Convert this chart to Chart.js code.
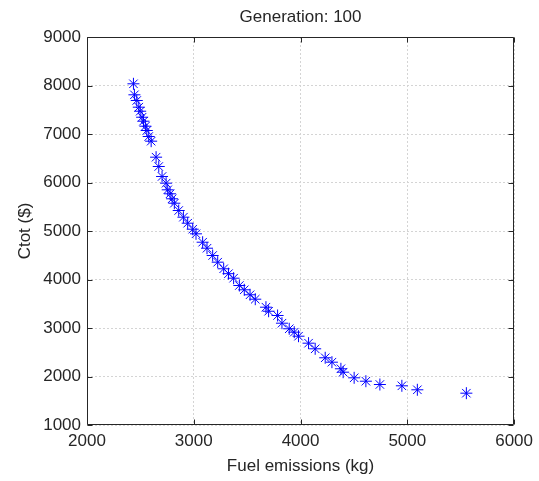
<!DOCTYPE html>
<html><head><meta charset="utf-8">
<style>html,body{margin:0;padding:0;background:#fff}#wrap{width:539px;height:481px}</style>
<script src="https://cdn.jsdelivr.net/npm/chart.js@4.4.1/dist/chart.umd.min.js"></script>
</head><body><div id="wrap"><canvas id="c" width="539" height="481"></canvas></div>
<script>
const chartTitle = 'Generation: 100';
const xAxisTitle = 'Fuel emissions (kg)';
const yAxisTitle = 'Ctot ($)';
const fuelEmissions = [2435,2444,2466,2485,2498,2516,2529,2547,2560,2578,2601,2647,2672,2703,2741,2756,2778,2797,2818,2859,2903,2943,2990,3021,3083,3124,3177,3224,3280,3325,3373,3427,3473,3527,3576,3676,3701,3785,3826,3894,3941,3981,4075,4137,4231,4294,4378,4399,4502,4612,4743,4949,5094,5553];
const ctot = [8035,7808,7691,7553,7470,7346,7264,7161,7072,6948,6852,6522,6330,6124,5986,5849,5767,5664,5573,5423,5285,5161,5037,4942,4769,4645,4495,4357,4221,4120,4027,3876,3788,3685,3594,3429,3346,3258,3099,2984,2914,2831,2687,2571,2386,2295,2159,2089,1973,1903,1835,1808,1726,1656];
const xTicks = [2000,3000,4000,5000,6000];
const yTicks = [1000,2000,3000,4000,5000,6000,7000,8000,9000];

const FONT = '"Liberation Sans", Arial, Helvetica, sans-serif';
const TXT = '#262626';
const FS = 17;

const framePlugin = {
  id: 'frame',
  afterDraw(chart) {
    const {ctx, chartArea: a, scales} = chart;
    ctx.save();
    ctx.strokeStyle = TXT;
    ctx.lineWidth = 1;
    ctx.beginPath();
    const L = Math.round(a.left)+0.5, R = Math.round(a.right)-0.5, T = Math.round(a.top)+0.5, B = Math.round(a.bottom)-0.5;
    ctx.rect(L, T, R-L, B-T);
    const tl = 5;
    xTicks.forEach(v => {
      const x = Math.round(scales.x.getPixelForValue(v)) + 0.5;
      ctx.moveTo(x, B); ctx.lineTo(x, B - tl);
      ctx.moveTo(x, T); ctx.lineTo(x, T + tl);
    });
    yTicks.forEach(v => {
      const y = Math.round(scales.y.getPixelForValue(v)) + 0.5;
      ctx.moveTo(L, y); ctx.lineTo(L + tl, y);
      ctx.moveTo(R, y); ctx.lineTo(R - tl, y);
    });
    ctx.stroke();
    ctx.fillStyle = TXT;
    ctx.font = FS + 'px ' + FONT;
    ctx.textAlign = 'center';
    ctx.textBaseline = 'middle';
    ctx.fillText(chartTitle, (a.left + a.right) / 2, 17);
    ctx.restore();
  }
};

new Chart(document.getElementById('c'), {
  type: 'scatter',
  data: {
    datasets: [{
      data: fuelEmissions.map((x, i) => ({x, y: ctot[i]})),
      pointStyle: 'star',
      pointRadius: 6,
      pointHoverRadius: 6,
      borderColor: '#0000ff',
      backgroundColor: '#0000ff',
      borderWidth: 1,
      showLine: false
    }]
  },
  options: {
    responsive: false,
    animation: false,
    devicePixelRatio: 1,
    layout: {padding: {top: 37, right: 24, bottom: 0, left: 0}},
    plugins: {legend: {display: false}, tooltip: {enabled: false}, title: {display: false}},
    scales: {
      x: {
        type: 'linear', min: 2000, max: 6000,
        afterBuildTicks: s => { s.ticks = xTicks.map(v => ({value: v})); },
        afterFit: s => { s.height = 56; },
        grid: {color: '#d4d4d4', drawTicks: false, lineWidth: 1},
        border: {display: false, dash: [2, 2]},
        ticks: {color: TXT, font: {family: FONT, size: FS}, padding: 6, maxRotation: 0, callback: v => String(v)},
        title: {display: true, text: xAxisTitle, color: TXT, font: {family: FONT, size: FS}, padding: {top: 0, bottom: 4}}
      },
      y: {
        type: 'linear', min: 1000, max: 9000,
        afterBuildTicks: s => { s.ticks = yTicks.map(v => ({value: v})); },
        afterFit: s => { s.width = 87; },
        grid: {color: '#d4d4d4', drawTicks: false, lineWidth: 1},
        border: {display: false, dash: [2, 2]},
        ticks: {color: TXT, font: {family: FONT, size: FS}, padding: 6, callback: v => String(v)},
        title: {display: true, text: yAxisTitle, color: TXT, font: {family: FONT, size: FS}, padding: {top: 15, bottom: 0}}
      }
    }
  },
  plugins: [framePlugin]
});
</script>
</body></html>
